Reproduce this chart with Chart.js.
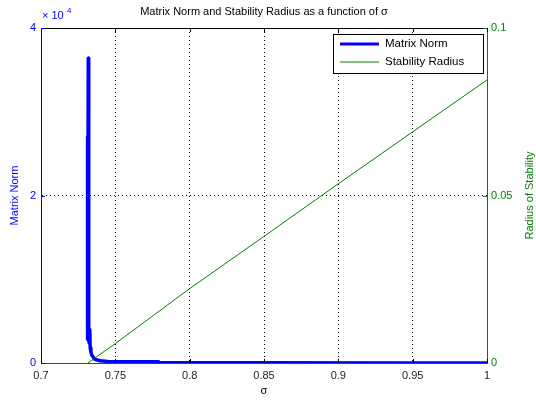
<!DOCTYPE html>
<html>
<head>
<meta charset="utf-8">
<script src="https://cdn.jsdelivr.net/npm/chart.js@4.4.0/dist/chart.umd.min.js"></script>
<style>
  html, body { margin: 0; padding: 0; background: #fff; }
</style>
</head>
<body>
<canvas id="normChart" width="536" height="402"></canvas>
<script>
// matrix norm vs sigma
const normSigma  = [0.7310, 0.7312, 0.7313, 0.7315, 0.7318, 0.7321, 0.7324, 0.7328, 0.7331, 0.7336, 0.7341, 0.7363, 0.7397, 0.7450, 0.7550, 0.7680, 0.7790, 0.7800, 0.8500, 0.9500, 1.0000];
const normValues = [2700,   4300,   27000,  3500,   36400,  4200,   2400,   4000,   1800,   1300,   950,    440,    275,    190,    160,    150,    150,    30,     20,     10,     5];

// stability radius vs sigma
const radiusSigma  = [0.7315, 0.75,   0.80,   0.85,   0.90,   0.95,   1.00];
const radiusValues = [0,      0.0058, 0.0222, 0.0378, 0.0535, 0.0690, 0.0845];

// tick labels
const xTicks = [0.7, 0.75, 0.8, 0.85, 0.9, 0.95, 1];
const normTicks = [0, 20000, 40000];
const radiusTicks = [0, 0.05, 0.1];

const BLUE = '#0000ff';
const GREEN = '#008000';
const FONT = 'Liberation Sans, Arial, sans-serif';

// extra drawing: box top, inward ticks, title, exponent, legend, right title
const extras = {
  id: 'extras',
  afterDraw(chart) {
    const ctx = chart.ctx;
    const a = chart.chartArea;
    const sx = chart.scales.x, sl = chart.scales.y, sr = chart.scales.y2;
    ctx.save();

    // top edge of the box
    ctx.lineWidth = 1;
    ctx.strokeStyle = '#000';
    ctx.beginPath();
    ctx.moveTo(a.left, a.top + 0.5);
    ctx.lineTo(a.right, a.top + 0.5);
    ctx.stroke();

    // inward tick marks
    xTicks.forEach(v => {
      const x = Math.round(sx.getPixelForValue(v)) + 0.5;
      ctx.strokeStyle = '#000';
      ctx.beginPath();
      ctx.moveTo(x, a.bottom); ctx.lineTo(x, a.bottom - 4);
      ctx.moveTo(x, a.top); ctx.lineTo(x, a.top + 4);
      ctx.stroke();
    });
    normTicks.forEach(v => {
      const y = Math.round(sl.getPixelForValue(v)) + 0.5;
      ctx.strokeStyle = BLUE;
      ctx.beginPath();
      ctx.moveTo(a.left, y); ctx.lineTo(a.left + 4, y);
      ctx.stroke();
    });
    radiusTicks.forEach(v => {
      const y = Math.round(sr.getPixelForValue(v)) + 0.5;
      ctx.strokeStyle = GREEN;
      ctx.beginPath();
      ctx.moveTo(a.right, y); ctx.lineTo(a.right - 4, y);
      ctx.stroke();
    });

    // title
    ctx.fillStyle = '#000';
    ctx.font = '11px ' + FONT;
    ctx.textAlign = 'center';
    ctx.textBaseline = 'middle';
    ctx.fillText('Matrix Norm and Stability Radius as a function of σ', (a.left + a.right) / 2, 12);

    // exponent label
    ctx.fillStyle = BLUE;
    ctx.textAlign = 'left';
    ctx.font = '11px ' + FONT;
    ctx.fillText('× 10', 42, 16);
    ctx.font = '8px ' + FONT;
    ctx.fillText('4', 67, 11);

    // right axis title, reading bottom to top
    ctx.save();
    ctx.translate(530, (a.top + a.bottom) / 2);
    ctx.rotate(-Math.PI / 2);
    ctx.fillStyle = GREEN;
    ctx.font = '11px ' + FONT;
    ctx.textAlign = 'center';
    ctx.textBaseline = 'middle';
    ctx.fillText('Radius of Stability', 0, 0);
    ctx.restore();

    // legend
    const lx = 333, ly = 34, lw = 150, lh = 39;
    ctx.fillStyle = '#fff';
    ctx.fillRect(lx, ly, lw, lh);
    ctx.strokeStyle = '#000';
    ctx.lineWidth = 1;
    ctx.strokeRect(lx + 0.5, ly + 0.5, lw, lh);
    chart.data.datasets.forEach((ds, i) => {
      const row = ds.legendRow;
      const y = ly + 10 + row * 18;
      ctx.strokeStyle = ds.borderColor;
      ctx.lineWidth = ds.legendWidth;
      ctx.beginPath();
      ctx.moveTo(lx + 7, y);
      ctx.lineTo(lx + 46, y);
      ctx.stroke();
      ctx.fillStyle = '#000';
      ctx.font = '11.5px ' + FONT;
      ctx.textAlign = 'left';
      ctx.textBaseline = 'middle';
      ctx.fillText(ds.label, lx + 52, y);
    });

    ctx.restore();
  }
};

const ctx = document.getElementById('normChart');

const normChart = new Chart(ctx, {
  type: 'scatter',
  data: {
    datasets: [
      {
        label: 'Matrix Norm',
        data: normSigma.map((s, i) => ({ x: s, y: normValues[i] })),
        showLine: true,
        borderColor: BLUE,
        backgroundColor: BLUE,
        borderWidth: 3.5,
        borderJoinStyle: 'round',
        pointRadius: 0,
        yAxisID: 'y',
        order: 1,
        legendRow: 0,
        legendWidth: 3
      },
      {
        label: 'Stability Radius',
        data: radiusSigma.map((s, i) => ({ x: s, y: radiusValues[i] })),
        showLine: true,
        borderColor: GREEN,
        backgroundColor: GREEN,
        borderWidth: 1,
        pointRadius: 0,
        yAxisID: 'y2',
        order: 0,
        legendRow: 1,
        legendWidth: 1
      }
    ]
  },
  options: {
    responsive: false,
    animation: false,
    devicePixelRatio: 1,
    layout: { padding: { top: 28, left: 0, right: 0, bottom: 0 } },
    plugins: {
      legend: { display: false },
      tooltip: { enabled: false },
      title: { display: false }
    },
    scales: {
      x: {
        type: 'linear',
        min: 0.7,
        max: 1,
        afterBuildTicks: s => { s.ticks = xTicks.map(v => ({ value: v })); },
        afterFit: s => { s.height = 39; },
        ticks: {
          color: '#222',
          font: { family: FONT, size: 11 },
          padding: 6,
          maxRotation: 0,
          callback: v => String(v)
        },
        grid: {
          drawTicks: false,
          color: c => (c.tick && (c.tick.value === 0.7 || c.tick.value === 1)) ? 'rgba(0,0,0,0)' : '#000',
          lineWidth: 1
        },
        border: { color: '#444', width: 1, dash: [1, 3] },
        title: {
          display: true,
          text: 'σ',
          color: '#000',
          font: { family: FONT, size: 11 },
          padding: { top: 0, bottom: 4 }
        }
      },
      y: {
        position: 'left',
        min: 0,
        max: 40000,
        afterBuildTicks: s => { s.ticks = normTicks.map(v => ({ value: v })); },
        afterFit: s => { s.width = 41; },
        ticks: {
          color: BLUE,
          font: { family: FONT, size: 11 },
          padding: 5,
          callback: v => String(v / 10000)
        },
        grid: {
          drawTicks: false,
          color: c => (c.tick && c.tick.value === 20000) ? '#000' : 'rgba(0,0,0,0)',
          lineWidth: 1
        },
        border: { color: BLUE, width: 1, dash: [1, 3] },
        title: {
          display: true,
          text: 'Matrix Norm',
          color: BLUE,
          font: { family: FONT, size: 11 },
          padding: { top: 8, bottom: 0 }
        }
      },
      y2: {
        position: 'right',
        min: 0,
        max: 0.1,
        afterBuildTicks: s => { s.ticks = radiusTicks.map(v => ({ value: v })); },
        afterFit: s => { s.width = 49; },
        ticks: {
          color: GREEN,
          font: { family: FONT, size: 11 },
          padding: 4,
          callback: v => String(v)
        },
        grid: { drawTicks: false, drawOnChartArea: false },
        border: { color: GREEN, width: 1 }
      }
    }
  },
  plugins: [extras]
});
</script>
</body>
</html>
